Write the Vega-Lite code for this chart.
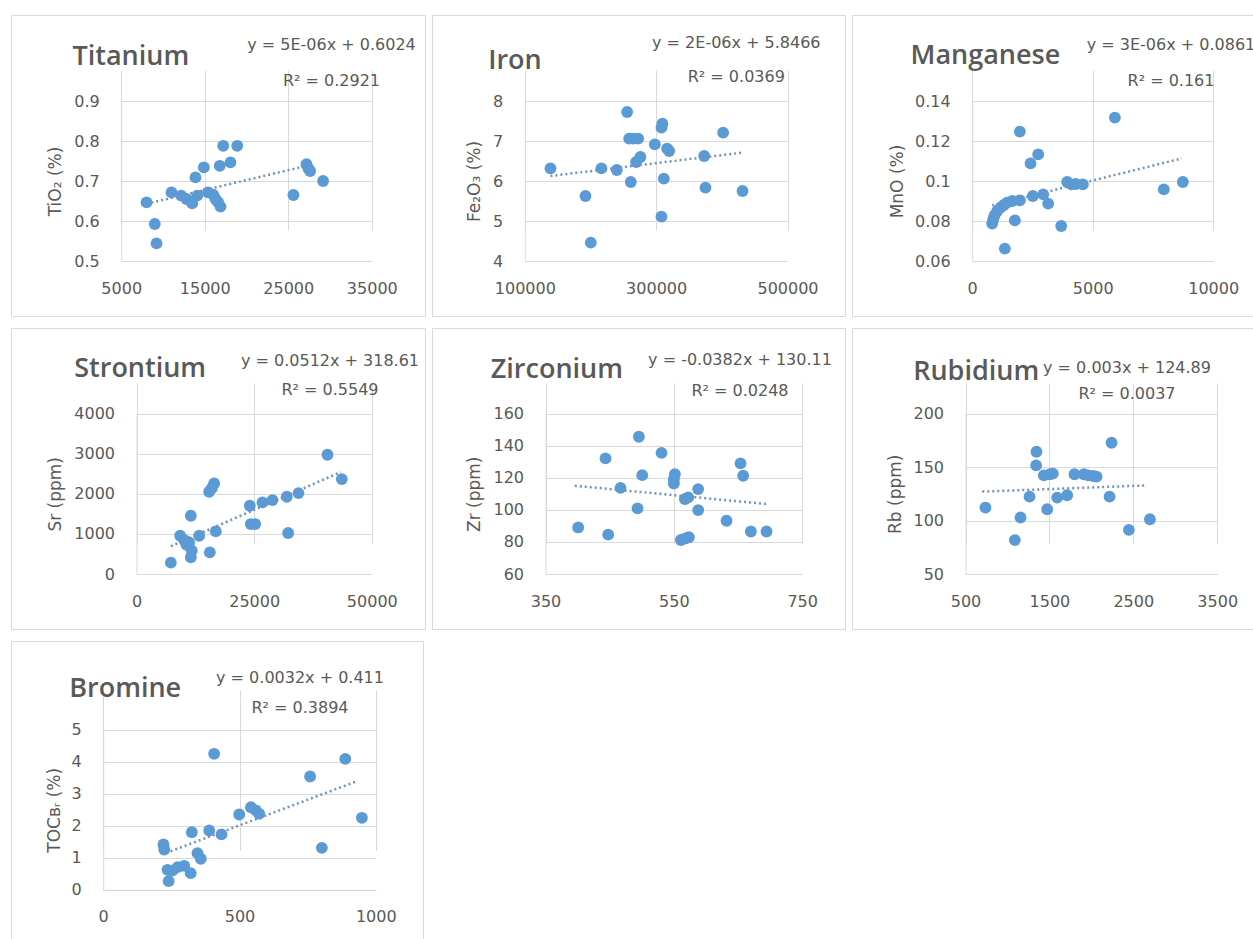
{
  "$schema": "https://vega.github.io/schema/vega-lite/v6.json",
  "background": "white",
  "padding": {"left": 10, "top": 14, "right": 0, "bottom": 0},
  "spacing": 10,
  "config": {
    "view": {"stroke": "#D9D9D9", "strokeWidth": 1},
    "title": {"anchor": "start", "frame": "group", "baseline": "alphabetic", "font": "Open Sans", "fontSize": 27, "fontWeight": 600, "color": "#595959"},
    "axis": {"labelFont": "DejaVu Sans", "labelFontSize": 16, "labelColor": "#595959", "ticks": false, "tickSize": 0, "gridColor": "#D9D9D9", "gridWidth": 1, "domainColor": "#D9D9D9", "domainWidth": 1, "titleFont": "DejaVu Sans", "titleFontSize": 17, "titleColor": "#595959", "titleFontWeight": "normal", "labelFlush": false, "labelOverlap": false, "labelExpr": "'' + datum.value", "grid": true, "domain": true},
    "axisBottom": {"labelPadding": 19},
    "axisLeft": {"labelPadding": 22, "titleAngle": 270, "titleAlign": "center", "titleBaseline": "middle"},
    "axisTop": {"titleFontSize": 16, "titleAngle": 0, "titleAlign": "center", "titleBaseline": "alphabetic", "labels": false, "domain": false, "grid": false, "ticks": false}
  },
  "datasets": {
    "ti": [
      {"x": 8030, "y": 0.6465}, {"x": 9020, "y": 0.5925}, {"x": 9225, "y": 0.544}, {"x": 11020, "y": 0.6715},
      {"x": 12180, "y": 0.6633}, {"x": 12820, "y": 0.655}, {"x": 13500, "y": 0.644}, {"x": 14100, "y": 0.6633},
      {"x": 13890, "y": 0.709}, {"x": 14890, "y": 0.734}, {"x": 15370, "y": 0.6715}, {"x": 16010, "y": 0.666},
      {"x": 16290, "y": 0.655}, {"x": 16610, "y": 0.6465}, {"x": 16890, "y": 0.636}, {"x": 16800, "y": 0.738},
      {"x": 18080, "y": 0.7465}, {"x": 17210, "y": 0.788}, {"x": 18890, "y": 0.788}, {"x": 25620, "y": 0.665},
      {"x": 27180, "y": 0.742}, {"x": 27420, "y": 0.731}, {"x": 27620, "y": 0.725}, {"x": 29170, "y": 0.7}
    ],
    "ti_t": [{"x": 8030, "y": 0.643}, {"x": 27400, "y": 0.739}],
    "fe": [
      {"x": 139100, "y": 6.317}, {"x": 192400, "y": 5.625}, {"x": 200500, "y": 4.458}, {"x": 216700, "y": 6.317},
      {"x": 240100, "y": 6.275}, {"x": 255800, "y": 7.725}, {"x": 258900, "y": 7.058}, {"x": 261400, "y": 5.975},
      {"x": 265500, "y": 7.058}, {"x": 272600, "y": 7.058}, {"x": 269500, "y": 6.475}, {"x": 276000, "y": 6.6},
      {"x": 298000, "y": 6.917}, {"x": 308100, "y": 7.333}, {"x": 309600, "y": 7.433}, {"x": 311700, "y": 6.058},
      {"x": 308100, "y": 5.108}, {"x": 316700, "y": 6.808}, {"x": 319800, "y": 6.75}, {"x": 373100, "y": 6.625},
      {"x": 375100, "y": 5.833}, {"x": 402000, "y": 7.208}, {"x": 431500, "y": 5.75}
    ],
    "fe_t": [{"x": 139100, "y": 6.125}, {"x": 431500, "y": 6.71}],
    "mn": [
      {"x": 830, "y": 0.0787}, {"x": 871, "y": 0.0808}, {"x": 927, "y": 0.0828}, {"x": 1037, "y": 0.085},
      {"x": 1176, "y": 0.0867}, {"x": 1314, "y": 0.088}, {"x": 1452, "y": 0.0892}, {"x": 1660, "y": 0.09},
      {"x": 1978, "y": 0.0903}, {"x": 1355, "y": 0.0662}, {"x": 1770, "y": 0.0803}, {"x": 1978, "y": 0.1247},
      {"x": 2420, "y": 0.1088}, {"x": 2738, "y": 0.1133}, {"x": 2517, "y": 0.0925}, {"x": 2946, "y": 0.0933},
      {"x": 3153, "y": 0.0887}, {"x": 3693, "y": 0.0775}, {"x": 3942, "y": 0.0995}, {"x": 4121, "y": 0.0983},
      {"x": 4300, "y": 0.0985}, {"x": 4592, "y": 0.0983}, {"x": 5919, "y": 0.1317}, {"x": 7952, "y": 0.0958},
      {"x": 8740, "y": 0.0995}
    ],
    "mn_t": [{"x": 830, "y": 0.0878}, {"x": 8700, "y": 0.1113}],
    "sr": [
      {"x": 7295, "y": 282}, {"x": 9278, "y": 954}, {"x": 10127, "y": 846}, {"x": 10623, "y": 730},
      {"x": 11190, "y": 788}, {"x": 11544, "y": 1452}, {"x": 11756, "y": 581}, {"x": 11544, "y": 415},
      {"x": 13314, "y": 954}, {"x": 15580, "y": 539}, {"x": 15438, "y": 2050}, {"x": 16000, "y": 2140},
      {"x": 16500, "y": 2257}, {"x": 16855, "y": 1063}, {"x": 24079, "y": 1701}, {"x": 24291, "y": 1245},
      {"x": 25212, "y": 1245}, {"x": 26770, "y": 1784}, {"x": 28895, "y": 1842}, {"x": 31940, "y": 1925},
      {"x": 32224, "y": 1021}, {"x": 34419, "y": 2017}, {"x": 40580, "y": 2971}, {"x": 43625, "y": 2365}
    ],
    "sr_t": [{"x": 7295, "y": 692}, {"x": 43400, "y": 2540}],
    "zr": [
      {"x": 400.9, "y": 89.0}, {"x": 443.5, "y": 132.0}, {"x": 447.7, "y": 84.5}, {"x": 466.9, "y": 113.7},
      {"x": 493.4, "y": 100.9}, {"x": 495.5, "y": 145.5}, {"x": 500.7, "y": 121.6}, {"x": 530.8, "y": 135.5},
      {"x": 551.6, "y": 122.2}, {"x": 550.0, "y": 119.1}, {"x": 550.0, "y": 116.4}, {"x": 567.2, "y": 106.7},
      {"x": 572.3, "y": 107.7}, {"x": 561.0, "y": 81.2}, {"x": 568.2, "y": 82.2}, {"x": 573.4, "y": 82.9},
      {"x": 587.9, "y": 112.9}, {"x": 587.9, "y": 99.8}, {"x": 632.1, "y": 93.2}, {"x": 653.9, "y": 128.9},
      {"x": 658.0, "y": 121.2}, {"x": 670.0, "y": 86.5}, {"x": 694.4, "y": 86.5}
    ],
    "zr_t": [{"x": 395.7, "y": 115.0}, {"x": 694.4, "y": 103.6}],
    "rb": [
      {"x": 738, "y": 112.1}, {"x": 1088, "y": 81.7}, {"x": 1156, "y": 102.8}, {"x": 1263, "y": 122.3},
      {"x": 1346, "y": 164.3}, {"x": 1342, "y": 151.5}, {"x": 1434, "y": 142.2}, {"x": 1505, "y": 143.2},
      {"x": 1541, "y": 143.8}, {"x": 1474, "y": 110.5}, {"x": 1593, "y": 121.4}, {"x": 1712, "y": 123.6},
      {"x": 1799, "y": 143.2}, {"x": 1911, "y": 143.2}, {"x": 1962, "y": 142.2}, {"x": 2022, "y": 141.6},
      {"x": 2062, "y": 141.0}, {"x": 2241, "y": 172.7}, {"x": 2217, "y": 122.3}, {"x": 2447, "y": 91.3},
      {"x": 2698, "y": 101.2}
    ],
    "rb_t": [{"x": 700, "y": 127.0}, {"x": 2650, "y": 132.8}],
    "br": [
      {"x": 221, "y": 1.417}, {"x": 224, "y": 1.26}, {"x": 236, "y": 0.625}, {"x": 240, "y": 0.271},
      {"x": 254, "y": 0.6}, {"x": 273, "y": 0.71}, {"x": 297, "y": 0.75}, {"x": 321, "y": 0.52},
      {"x": 325, "y": 1.8}, {"x": 346, "y": 1.146}, {"x": 358, "y": 0.97}, {"x": 389, "y": 1.854},
      {"x": 407, "y": 4.25}, {"x": 434, "y": 1.73}, {"x": 499, "y": 2.354}, {"x": 542, "y": 2.58},
      {"x": 560, "y": 2.48}, {"x": 572, "y": 2.375}, {"x": 759, "y": 3.54}, {"x": 802, "y": 1.312},
      {"x": 888, "y": 4.09}, {"x": 949, "y": 2.25}
    ],
    "br_t": [{"x": 230, "y": 1.15}, {"x": 930, "y": 3.39}]
  },
  "vconcat": [
    {
      "spacing": 5,
      "hconcat": [
        {
          "width": 414, "height": 301,
          "title": {"text": "Titanium", "dx": 61.5, "offset": -55.5},
          "layer": [
            {"data": {"name": "ti"}, "mark": {"type": "circle", "size": 140, "color": "#5B9BD5", "opacity": 1},
             "encoding": {
               "x": {"field": "x", "type": "quantitative", "scale": {"domain": [5000, 35000], "range": [110.2, 360.8], "nice": false, "zero": false},
                     "axis": {"values": [5000, 15000, 25000, 35000], "offset": -55, "title": null}},
               "y": {"field": "y", "type": "quantitative", "scale": {"domain": [0.5, 0.9], "range": [246, 86], "nice": false, "zero": false},
                     "axis": {"values": [0.5, 0.6, 0.7, 0.8, 0.9], "offset": -110.2, "title": "TiO₂ (%)", "titleX": -65.4, "titleY": 166}}
             }},
            {"data": {"name": "ti_t"}, "mark": {"type": "line", "color": "#6F93C0", "strokeWidth": 2.5, "strokeDash": [2, 3]},
             "encoding": {
               "x": {"field": "x", "type": "quantitative", "scale": {"domain": [5000, 35000], "range": [110.2, 360.8], "nice": false, "zero": false},
                     "axis": {"orient": "top", "offset": 0, "title": ["y = 5E-06x + 0.6024", "R² = 0.2921"], "titleX": 320, "titleY": 34.2, "titleLineHeight": 36.6}},
               "y": {"field": "y", "type": "quantitative", "scale": {"domain": [0.5, 0.9], "range": [246, 86], "nice": false, "zero": false},
                     "axis": {"values": [0.5, 0.6, 0.7, 0.8, 0.9], "offset": -110.2, "title": "TiO₂ (%)", "titleX": -65.4, "titleY": 166}}
             }}
          ],
          "resolve": {"axis": {"x": "independent"}}
        },
        {
          "width": 413, "height": 301,
          "title": {"text": "Iron", "dx": 56.2, "offset": -59.8},
          "layer": [
            {"data": {"name": "fe"}, "mark": {"type": "circle", "size": 140, "color": "#5B9BD5", "opacity": 1},
             "encoding": {
               "x": {"field": "x", "type": "quantitative", "scale": {"domain": [100000, 500000], "range": [92.8, 355.5], "nice": false, "zero": false},
                     "axis": {"values": [100000, 300000, 500000], "offset": -55, "title": null}},
               "y": {"field": "y", "type": "quantitative", "scale": {"domain": [4, 8], "range": [246, 86], "nice": false, "zero": false},
                     "axis": {"values": [4, 5, 6, 7, 8], "offset": -92.8, "title": "Fe₂O₃ (%)", "titleX": -50, "titleY": 166}}
             }},
            {"data": {"name": "fe_t"}, "mark": {"type": "line", "color": "#6F93C0", "strokeWidth": 2.5, "strokeDash": [2, 3]},
             "encoding": {
               "x": {"field": "x", "type": "quantitative", "scale": {"domain": [100000, 500000], "range": [92.8, 355.5], "nice": false, "zero": false},
                     "axis": {"orient": "top", "offset": 0, "title": ["y = 2E-06x + 5.8466", "R² = 0.0369"], "titleX": 303.8, "titleY": 32.5, "titleLineHeight": 34.3}},
               "y": {"field": "y", "type": "quantitative", "scale": {"domain": [4, 8], "range": [246, 86], "nice": false, "zero": false},
                     "axis": {"values": [4, 5, 6, 7, 8], "offset": -92.8, "title": "Fe₂O₃ (%)", "titleX": -50, "titleY": 166}}
             }}
          ],
          "resolve": {"axis": {"x": "independent"}}
        },
        {
          "width": 403, "height": 301,
          "title": {"text": "Manganese", "dx": 58.5, "offset": -55.2},
          "layer": [
            {"data": {"name": "mn"}, "mark": {"type": "circle", "size": 140, "color": "#5B9BD5", "opacity": 1},
             "encoding": {
               "x": {"field": "x", "type": "quantitative", "scale": {"domain": [0, 10000], "range": [120.2, 361.2], "nice": false, "zero": false},
                     "axis": {"values": [0, 5000, 10000], "offset": -55, "title": null}},
               "y": {"field": "y", "type": "quantitative", "scale": {"domain": [0.06, 0.14], "range": [246, 86], "nice": false, "zero": false},
                     "axis": {"values": [0.06, 0.08, 0.1, 0.12, 0.14], "offset": -120.2, "title": "MnO (%)", "titleX": -75, "titleY": 166}}
             }},
            {"data": {"name": "mn_t"}, "mark": {"type": "line", "color": "#6F93C0", "strokeWidth": 2.5, "strokeDash": [2, 3]},
             "encoding": {
               "x": {"field": "x", "type": "quantitative", "scale": {"domain": [0, 10000], "range": [120.2, 361.2], "nice": false, "zero": false},
                     "axis": {"orient": "top", "offset": 0, "title": ["y = 3E-06x + 0.0861", "R² = 0.161"], "titleX": 318.5, "titleY": 34.2, "titleLineHeight": 36.6}},
               "y": {"field": "y", "type": "quantitative", "scale": {"domain": [0.06, 0.14], "range": [246, 86], "nice": false, "zero": false},
                     "axis": {"values": [0.06, 0.08, 0.1, 0.12, 0.14], "offset": -120.2, "title": "MnO (%)", "titleX": -75, "titleY": 166}}
             }}
          ],
          "resolve": {"axis": {"x": "independent"}}
        }
      ]
    },
    {
      "spacing": 5,
      "hconcat": [
        {
          "width": 414, "height": 301,
          "title": {"text": "Strontium", "dx": 63.2, "offset": -54.5},
          "layer": [
            {"data": {"name": "sr"}, "mark": {"type": "circle", "size": 140, "color": "#5B9BD5", "opacity": 1},
             "encoding": {
               "x": {"field": "x", "type": "quantitative", "scale": {"domain": [0, 50000], "range": [125.5, 360.8], "nice": false, "zero": false},
                     "axis": {"values": [0, 25000, 50000], "offset": -55, "title": null}},
               "y": {"field": "y", "type": "quantitative", "scale": {"domain": [0, 4000], "range": [246, 85.5], "nice": false, "zero": false},
                     "axis": {"values": [0, 1000, 2000, 3000, 4000], "offset": -125.5, "title": "Sr (ppm)", "titleX": -80.7, "titleY": 165.8}}
             }},
            {"data": {"name": "sr_t"}, "mark": {"type": "line", "color": "#6F93C0", "strokeWidth": 2.5, "strokeDash": [2, 3]},
             "encoding": {
               "x": {"field": "x", "type": "quantitative", "scale": {"domain": [0, 50000], "range": [125.5, 360.8], "nice": false, "zero": false},
                     "axis": {"orient": "top", "offset": 0, "title": ["y = 0.0512x + 318.61", "R² = 0.5549"], "titleX": 318.5, "titleY": 37.2, "titleLineHeight": 29}},
               "y": {"field": "y", "type": "quantitative", "scale": {"domain": [0, 4000], "range": [246, 85.5], "nice": false, "zero": false},
                     "axis": {"values": [0, 1000, 2000, 3000, 4000], "offset": -125.5, "title": "Sr (ppm)", "titleX": -80.7, "titleY": 165.8}}
             }}
          ],
          "resolve": {"axis": {"x": "independent"}}
        },
        {
          "width": 413, "height": 301,
          "title": {"text": "Zirconium", "dx": 58.8, "offset": -56.2},
          "layer": [
            {"data": {"name": "zr"}, "mark": {"type": "circle", "size": 140, "color": "#5B9BD5", "opacity": 1},
             "encoding": {
               "x": {"field": "x", "type": "quantitative", "scale": {"domain": [350, 750], "range": [113.5, 370.2], "nice": false, "zero": false},
                     "axis": {"values": [350, 550, 750], "offset": -55, "title": null}},
               "y": {"field": "y", "type": "quantitative", "scale": {"domain": [60, 160], "range": [246, 85.5], "nice": false, "zero": false},
                     "axis": {"values": [60, 80, 100, 120, 140, 160], "offset": -113.5, "title": "Zr (ppm)", "titleX": -70.7, "titleY": 165.8}}
             }},
            {"data": {"name": "zr_t"}, "mark": {"type": "line", "color": "#6F93C0", "strokeWidth": 2.5, "strokeDash": [2, 3]},
             "encoding": {
               "x": {"field": "x", "type": "quantitative", "scale": {"domain": [350, 750], "range": [113.5, 370.2], "nice": false, "zero": false},
                     "axis": {"orient": "top", "offset": 0, "title": ["y = -0.0382x + 130.11", "R² = 0.0248"], "titleX": 307.5, "titleY": 36.2, "titleLineHeight": 31.6}},
               "y": {"field": "y", "type": "quantitative", "scale": {"domain": [60, 160], "range": [246, 85.5], "nice": false, "zero": false},
                     "axis": {"values": [60, 80, 100, 120, 140, 160], "offset": -113.5, "title": "Zr (ppm)", "titleX": -70.7, "titleY": 165.8}}
             }}
          ],
          "resolve": {"axis": {"x": "independent"}}
        },
        {
          "width": 403, "height": 301,
          "title": {"text": "Rubidium", "dx": 61.2, "offset": -57.8},
          "layer": [
            {"data": {"name": "rb"}, "mark": {"type": "circle", "size": 140, "color": "#5B9BD5", "opacity": 1},
             "encoding": {
               "x": {"field": "x", "type": "quantitative", "scale": {"domain": [500, 3500], "range": [113.5, 365.2], "nice": false, "zero": false},
                     "axis": {"values": [500, 1500, 2500, 3500], "offset": -55, "title": null}},
               "y": {"field": "y", "type": "quantitative", "scale": {"domain": [50, 200], "range": [246, 85.5], "nice": false, "zero": false},
                     "axis": {"values": [50, 100, 150, 200], "offset": -113.5, "title": "Rb (ppm)", "titleX": -70, "titleY": 165.8}}
             }},
            {"data": {"name": "rb_t"}, "mark": {"type": "line", "color": "#6F93C0", "strokeWidth": 2.5, "strokeDash": [2, 3]},
             "encoding": {
               "x": {"field": "x", "type": "quantitative", "scale": {"domain": [500, 3500], "range": [113.5, 365.2], "nice": false, "zero": false},
                     "axis": {"orient": "top", "offset": 0, "title": ["y = 0.003x + 124.89", "R² = 0.0037"], "titleX": 274.5, "titleY": 44.5, "titleLineHeight": 25.7}},
               "y": {"field": "y", "type": "quantitative", "scale": {"domain": [50, 200], "range": [246, 85.5], "nice": false, "zero": false},
                     "axis": {"values": [50, 100, 150, 200], "offset": -113.5, "title": "Rb (ppm)", "titleX": -70, "titleY": 165.8}}
             }}
          ],
          "resolve": {"axis": {"x": "independent"}}
        }
      ]
    },
    {
      "width": 412, "height": 298,
      "title": {"text": "Bromine", "dx": 58.2, "offset": -61.8},
      "layer": [
        {"data": {"name": "br"}, "mark": {"type": "circle", "size": 140, "color": "#5B9BD5", "opacity": 1},
         "encoding": {
           "x": {"field": "x", "type": "quantitative", "scale": {"domain": [0, 1000], "range": [92.2, 364.8], "nice": false, "zero": false},
                 "axis": {"values": [0, 500, 1000], "offset": -49.2, "title": null}},
           "y": {"field": "y", "type": "quantitative", "scale": {"domain": [0, 5], "range": [248.8, 88.8], "nice": false, "zero": false},
                 "axis": {"values": [0, 1, 2, 3, 4, 5], "offset": -92.2, "title": "TOCʙᵣ (%)", "titleX": -49, "titleY": 168.8}}
         }},
        {"data": {"name": "br_t"}, "mark": {"type": "line", "color": "#6F93C0", "strokeWidth": 2.5, "strokeDash": [2, 3]},
         "encoding": {
           "x": {"field": "x", "type": "quantitative", "scale": {"domain": [0, 1000], "range": [92.2, 364.8], "nice": false, "zero": false},
                 "axis": {"orient": "top", "offset": 0, "title": ["y = 0.0032x + 0.411", "R² = 0.3894"], "titleX": 288.5, "titleY": 41.2, "titleLineHeight": 30}},
           "y": {"field": "y", "type": "quantitative", "scale": {"domain": [0, 5], "range": [248.8, 88.8], "nice": false, "zero": false},
                 "axis": {"values": [0, 1, 2, 3, 4, 5], "offset": -92.2, "title": "TOCʙᵣ (%)", "titleX": -49, "titleY": 168.8}}
         }}
      ],
      "resolve": {"axis": {"x": "independent"}}
    }
  ]
}
